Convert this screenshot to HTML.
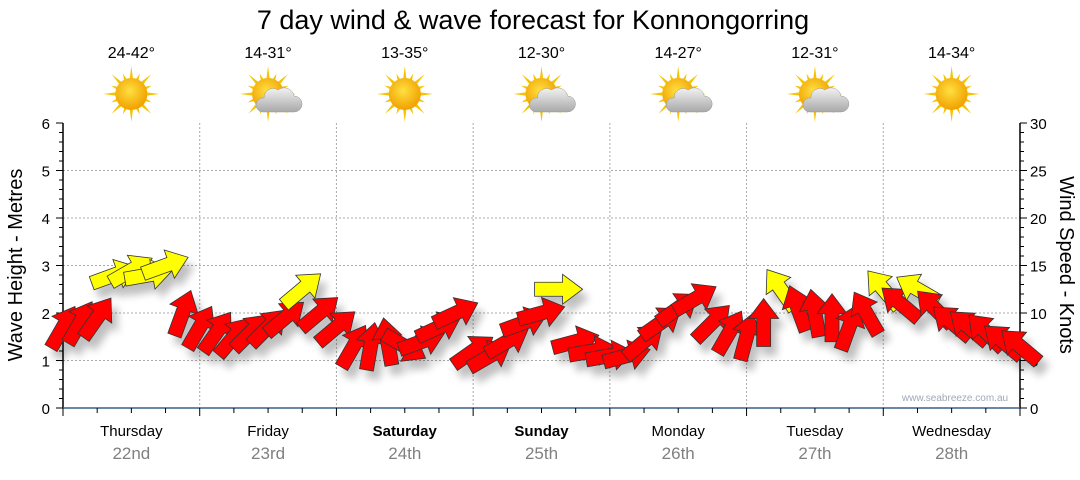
<!DOCTYPE html>
<html><head><meta charset="utf-8"><style>
body{margin:0;background:#fff;width:1080px;height:475px;overflow:hidden;font-family:"Liberation Sans","DejaVu Sans",sans-serif}
</style></head><body>
<svg width="1080" height="475" xmlns="http://www.w3.org/2000/svg">
<defs>
<filter id="sh" x="-50%" y="-50%" width="200%" height="200%"><feGaussianBlur in="SourceAlpha" stdDeviation="4"/><feOffset dx="6" dy="9"/><feComponentTransfer><feFuncA type="linear" slope="0.25"/></feComponentTransfer><feMerge><feMergeNode/><feMergeNode in="SourceGraphic"/></feMerge></filter>
<radialGradient id="sun" cx="45%" cy="40%" r="60%"><stop offset="0" stop-color="#ffe040"/><stop offset="1" stop-color="#f0a000"/></radialGradient>
<linearGradient id="cl" x1="0" y1="0" x2="0" y2="1"><stop offset="0" stop-color="#f2f2f2"/><stop offset="1" stop-color="#a8a8a8"/></linearGradient>
</defs>
<text x="533" y="29" font-size="27" text-anchor="middle" fill="#000">7 day wind &amp; wave forecast for Konnongorring</text>
<g id="grid"></g><g id="axes"></g><g id="icons"></g><g id="arrows" filter="url(#sh)"></g>
<text x="955" y="401" font-size="10" fill="#a0a8b8" text-anchor="middle">www.seabreeze.com.au</text>
<text transform="translate(22,265) rotate(-90)" font-size="20" text-anchor="middle">Wave Height - Metres</text>
<text transform="translate(1060,265) rotate(90)" font-size="20" text-anchor="middle">Wind Speed - Knots</text>
</svg>
<script>
const days=["Thursday","Friday","Saturday","Sunday","Monday","Tuesday","Wednesday"];
const dates=["22nd","23rd","24th","25th","26th","27th","28th"];
const temps=["24-42°","14-31°","13-35°","12-30°","14-27°","12-31°","14-34°"];
const cloudy=[0,1,0,1,1,1,0];
const waveTicks=[0,1,2,3,4,5,6];
const windTicks=[0,5,10,15,20,25,30];
const windKnots=[8.5,9,9.5,14,14.5,14,15,10, 8.5,8,7.5,8,8.5,9.5,12.5,10, 8.5,6.5,6.5,7,6.5,7,8.5,10, 6,5.5,7,9,10,12.5,7,6, 5.5,5.5,7,9,10.5,11.5,9,8, 7.5,9,12.5,10.5,10,9.5,8.5,10, 12.5,11,12.5,10.5,9,8.5,8,7,6.5];
const windDir=[60,60,55,20,30,10,20,70, 60,55,50,45,45,40,40,40, 40,60,80,100,-30,20,25,25, 35,30,30,20,15,0,15,10, 10,15,40,35,35,30,45,60, 75,90,125,110,100,90,70,120, 130,140,150,135,140,140,135,140,140];
const X0=63,X1=1020,Y0=408,Y1=123,DW=(X1-X0)/7;
const yW=m=>Y0-(m/6)*(Y0-Y1), yK=k=>Y0-(k/30)*(Y0-Y1), xT=h=>X0+h/24*DW;
const NS="http://www.w3.org/2000/svg";
function mk(t,a,p){const e=document.createElementNS(NS,t);for(const k in a)e.setAttribute(k,a[k]);p.appendChild(e);return e;}
const grid=document.getElementById('grid'),axes=document.getElementById('axes'),icons=document.getElementById('icons'),arr=document.getElementById('arrows');
waveTicks.forEach(v=>{if(v>0&&v<6){const l=mk('line',{x1:X0,x2:X1,y1:yW(v),y2:yW(v),stroke:'#aaa','stroke-dasharray':'2,2'},grid);}
 const t=mk('text',{x:50,y:yW(v)+6,'font-size':15,'text-anchor':'end'},axes);t.textContent=v;});
for(let i=1;i<7;i++){const l=mk('line',{x1:X0+i*DW,x2:X0+i*DW,y1:Y1,y2:Y0,stroke:'#aaa','stroke-dasharray':'2,2'},grid);}
windTicks.forEach(v=>{const t=mk('text',{x:1030,y:yK(v)+6,'font-size':15},axes);t.textContent=v;});
mk('line',{x1:X0,x2:X0,y1:Y1,y2:Y0,stroke:'#000','stroke-width':1.5},axes);
mk('line',{x1:X1,x2:X1,y1:Y1,y2:Y0,stroke:'#000','stroke-width':1.5},axes);
mk('line',{x1:X0,x2:X1,y1:Y0,y2:Y0,stroke:'#3a5f8a','stroke-width':1.5},axes);
for(let i=0;i<=30;i++){const y=Y0-i*(Y0-Y1)/30;mk('line',{x1:X0,x2:X0-(i%5==0?7:4),y1:y,y2:y,stroke:'#000'},axes);mk('line',{x1:X1,x2:X1+(i%5==0?7:4),y1:y,y2:y,stroke:'#000'},axes);}
for(let i=0;i<=28;i++){const x=X0+i*DW/4;mk('line',{x1:x,x2:x,y1:Y0,y2:Y0+(i%4==0?8:5),stroke:'#000'},axes);}
days.forEach((d,i)=>{const cx=X0+(i+0.5)*DW;
 const t=mk('text',{x:cx,y:436,'font-size':15,'text-anchor':'middle','font-weight':(i==2||i==3)?'bold':'normal'},axes);t.textContent=d;
 const t2=mk('text',{x:cx,y:459,'font-size':17,'text-anchor':'middle',fill:'#808080'},axes);t2.textContent=dates[i];
 const t3=mk('text',{x:cx,y:58,'font-size':16,'text-anchor':'middle'},icons);t3.textContent=temps[i];
 const g=mk('g',{transform:`translate(${cx},94)`},icons);
 for(let k=0;k<16;k++){const a=k*Math.PI/8,r=k%2?22:28;mk('polygon',{points:`${Math.cos(a-0.15)*13},${Math.sin(a-0.15)*13} ${Math.cos(a)*r},${Math.sin(a)*r} ${Math.cos(a+0.15)*13},${Math.sin(a+0.15)*13}`,fill:'#f5c400'},g);}
 mk('circle',{r:16,fill:'url(#sun)'},g);
 if(cloudy[i]){mk('path',{d:'M-6,18 h32 a8,8 0 0 0 0,-16 a10,10 0 0 0 -16,-6 a9,9 0 0 0 -14,8 a7,7 0 0 0 -2,14z',fill:'url(#cl)',stroke:'#999','stroke-width':0.5},g);}
});
windKnots.forEach((k,i)=>{const x=xT(i*3),y=yK(k),a=windDir[i];
 const p=mk('polygon',{points:'-24,-7 4,-7 4,-15 24,0 4,15 4,7 -24,7',transform:`translate(${x},${y}) rotate(${-a})`,fill:k>=12?'#ffff00':'#ff0000',stroke:'#333','stroke-width':0.8},arr);
 
 
});
</script>
</body></html>
